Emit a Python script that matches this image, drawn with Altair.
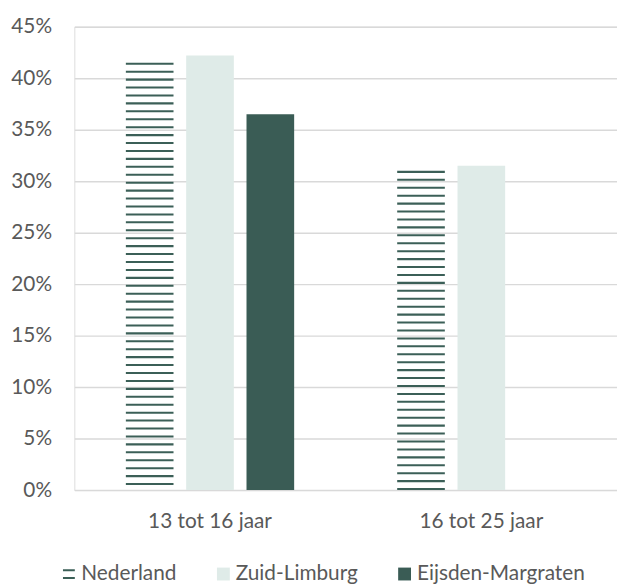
import altair as alt
import pandas as pd

categories = ["13 tot 16 jaar", "16 tot 25 jaar"]
series = ["Nederland", "Zuid-Limburg", "Eijsden-Margraten"]
nederland = [41.5, 31.0]
zuid_limburg = [42.2, 31.5]
eijsden = [36.5, None]
colors = ["#3b5f57", "#dfebe8", "#3a5c55"]

rows = []
for i, c in enumerate(categories):
    for s, vals in zip(series[1:], [zuid_limburg, eijsden]):
        if vals[i] is not None:
            rows.append({"cat": c, "series": s, "value": vals[i]})
bars_df = pd.DataFrame(rows)

# horizontal stripe pattern for Nederland bars
stripe_step = 0.77
stripe_h = 0.2
srows = []
for c, v in zip(categories, nederland):
    top = v
    while top > 0.05:
        srows.append({"cat": c, "series": "Nederland", "y": top - stripe_h, "y2": top})
        top -= stripe_step
stripes_df = pd.DataFrame(srows)

font = "Lato"
txt = "#595959"
xenc = alt.X("cat:N", sort=categories, title=None,
             scale=alt.Scale(paddingInner=0, paddingOuter=0),
             axis=alt.Axis(labelAngle=0, labelFontSize=21, labelColor=txt,
                           labelFont=font, labelPadding=21, ticks=False, domain=False))
xoff = alt.XOffset("series:N", sort=series,
                   scale=alt.Scale(domain=series, paddingInner=0.21, paddingOuter=0.854))
yscale = alt.Scale(domain=[0, 45], nice=False)
yaxis = alt.Axis(values=list(range(0, 46, 5)), labelExpr="datum.value + '%'",
                 labelFontSize=21, labelColor=txt, labelFont=font,
                 ticks=False, domain=False, gridColor="#d9d9d9", gridWidth=1.5,
                 labelPadding=23)

is_ned = "datum.value === 'Nederland'"
bars = alt.Chart(bars_df).mark_bar().encode(
    x=xenc, xOffset=xoff,
    y=alt.Y("value:Q", scale=yscale, axis=yaxis, title=None),
    color=alt.Color("series:N", scale=alt.Scale(domain=series, range=colors),
                    legend=alt.Legend(
                        title=None, orient="none", direction="horizontal",
                        legendX=-16, legendY=542,
                        labelFontSize=21, labelColor=txt, labelFont=font, labelLimit=400,
                        symbolSize=169, columnPadding=36, labelOffset=2,
                        symbolType=alt.ExprRef(f"{is_ned} ? 'M-0.92,-0.6H0.92M-0.92,0.6H0.92' : 'square'"),
                        symbolStrokeColor=alt.ExprRef(f"{is_ned} ? '#3b5f57' : 'transparent'"),
                        symbolStrokeWidth=alt.ExprRef(f"{is_ned} ? 2 : 0"),
                    )),
)

stripes = alt.Chart(stripes_df).mark_bar(color="#3b5f57").encode(
    x=xenc, xOffset=xoff,
    y=alt.Y("y:Q", scale=yscale, axis=yaxis, title=None),
    y2="y2:Q",
)

chart = alt.layer(bars, stripes).properties(
    width=548, height=468,
    autosize=alt.AutoSizeParams(type="none"),
    padding={"left": 67, "top": 16, "right": 0, "bottom": 95},
).configure_view(stroke=None).configure(font=font)

chart.save("out.html", embed_options={"renderer": "svg", "actions": False})
